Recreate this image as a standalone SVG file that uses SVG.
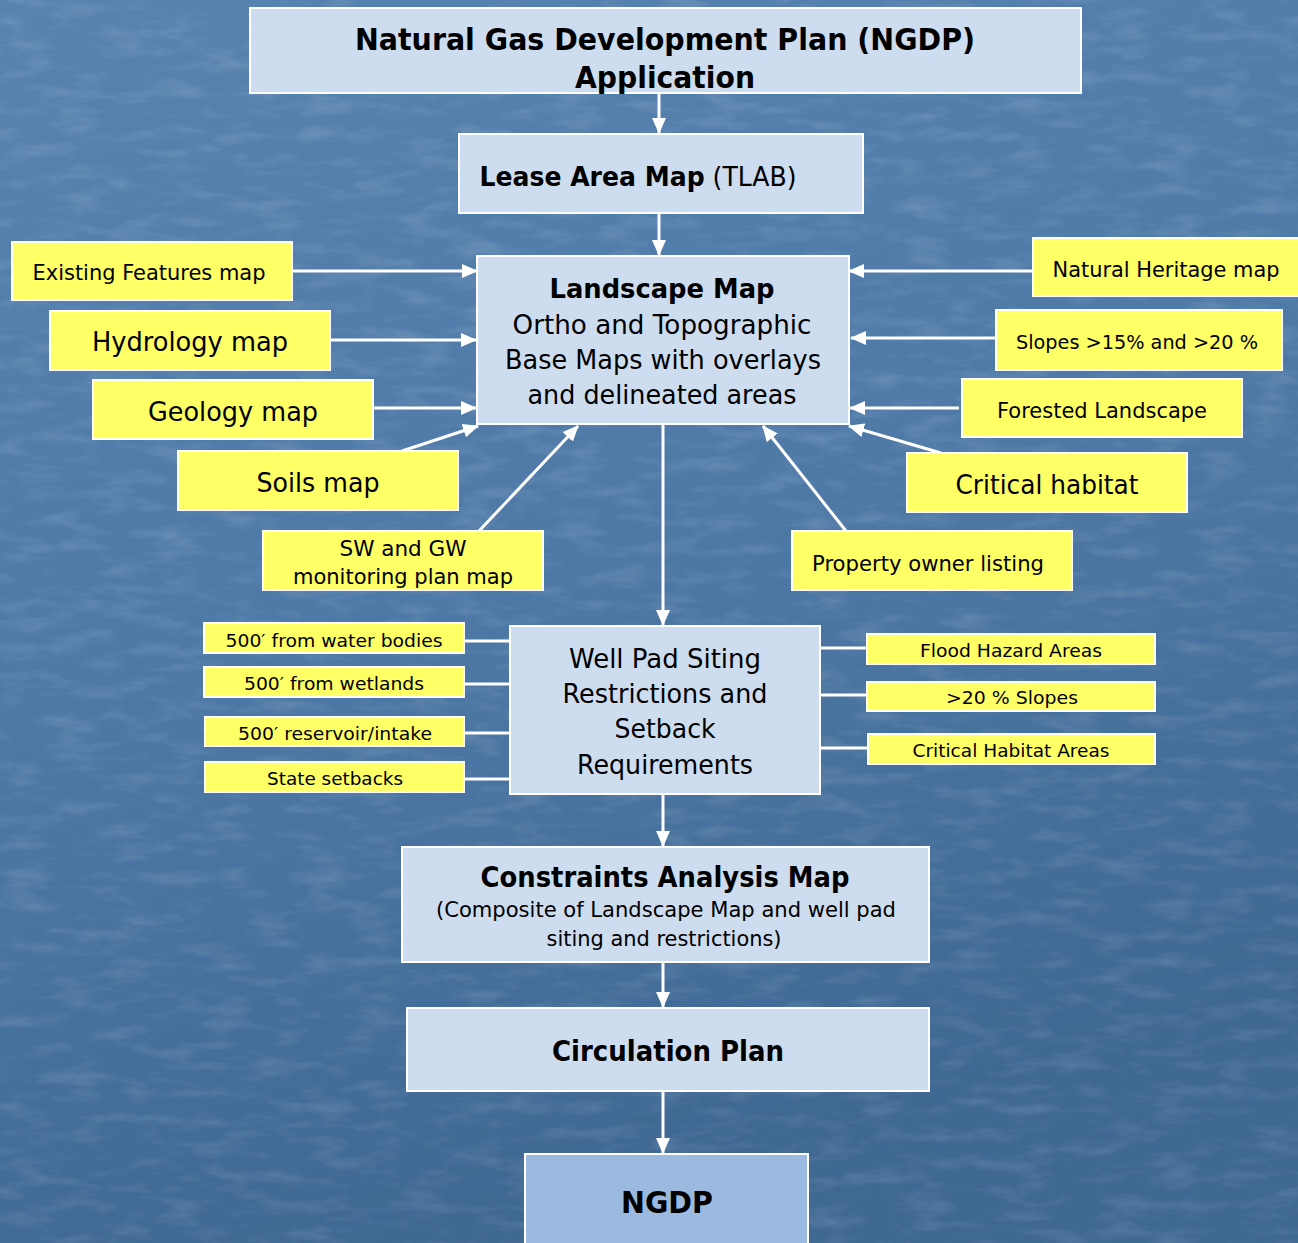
<svg xmlns="http://www.w3.org/2000/svg" width="1298" height="1243" viewBox="0 0 1298 1243">
<defs>
<linearGradient id="bg" x1="0" y1="0" x2="0.3" y2="1">
<stop offset="0" stop-color="#5883b0"/>
<stop offset="0.5" stop-color="#4f7aa8"/>
<stop offset="1" stop-color="#3f6893"/>
</linearGradient>
<filter id="tex" x="0" y="0" width="100%" height="100%">
<feTurbulence type="fractalNoise" baseFrequency="0.02 0.07" numOctaves="4" seed="7" result="n"/>
<feColorMatrix in="n" type="matrix" values="0 0 0 0 1  0 0 0 0 1  0 0 0 0 1  0 0 0 1.4 -0.65" />
</filter>
<marker id="ah" markerUnits="userSpaceOnUse" markerWidth="16" markerHeight="16" viewBox="0 0 16 16" refX="15" refY="8" orient="auto">
<path d="M0,1 L16,8 L0,15 Z" fill="#ffffff"/>
</marker>
<style>
.bl{fill:#cddcee;stroke:#ffffff;stroke-width:2}
.dk{fill:#9cbadf;stroke:#ffffff;stroke-width:2}
.yl{fill:#ffff66;stroke:#ffffff;stroke-width:2}
text{font-family:"DejaVu Sans","Liberation Sans",sans-serif;fill:#000;text-anchor:middle}
.b{font-weight:bold}
.c{stroke:#ffffff;stroke-width:3;fill:none}
.a{marker-end:url(#ah)}
</style>
</defs>
<rect x="0" y="0" width="1298" height="1243" fill="url(#bg)"/>
<rect x="0" y="0" width="1298" height="1243" filter="url(#tex)" opacity="0.2"/>

<g id="connectors">
<line class="c a" x1="659" y1="94" x2="659" y2="133"/>
<line class="c a" x1="659" y1="214" x2="659" y2="255"/>
<line class="c a" x1="293" y1="271" x2="477" y2="271"/>
<line class="c a" x1="331" y1="340" x2="476" y2="340"/>
<line class="c a" x1="374" y1="408" x2="476" y2="408"/>
<line class="c a" x1="402" y1="451" x2="478" y2="426"/>
<line class="c a" x1="479" y1="531" x2="578" y2="426"/>
<line class="c a" x1="1033" y1="271" x2="849" y2="271"/>
<line class="c a" x1="996" y1="338" x2="851" y2="338"/>
<line class="c a" x1="959" y1="408" x2="850" y2="408"/>
<line class="c a" x1="941" y1="453" x2="849" y2="426"/>
<line class="c a" x1="846" y1="531" x2="763" y2="426"/>
<line class="c a" x1="663" y1="425" x2="663" y2="625"/>
<line class="c" x1="464" y1="641" x2="510" y2="641"/>
<line class="c" x1="464" y1="684" x2="510" y2="684"/>
<line class="c" x1="464" y1="733" x2="510" y2="733"/>
<line class="c" x1="464" y1="779" x2="510" y2="779"/>
<line class="c" x1="820" y1="648" x2="867" y2="648"/>
<line class="c" x1="820" y1="695" x2="867" y2="695"/>
<line class="c" x1="820" y1="748" x2="867" y2="748"/>
<line class="c a" x1="663" y1="795" x2="663" y2="846"/>
<line class="c a" x1="663" y1="963" x2="663" y2="1007"/>
<line class="c a" x1="663" y1="1092" x2="663" y2="1153"/>
</g>

<g id="n-title">
<rect class="bl" x="250" y="8" width="831" height="85"/>
<text class="b" x="665" y="50" font-size="30" textLength="620" lengthAdjust="spacingAndGlyphs">Natural Gas Development Plan (NGDP)</text>
<text class="b" x="665" y="88" font-size="30" textLength="180" lengthAdjust="spacingAndGlyphs">Application</text>
</g>

<g id="n-lease">
<rect class="bl" x="459" y="134" width="404" height="79"/>
<text x="638" y="186" font-size="26" textLength="317" lengthAdjust="spacingAndGlyphs"><tspan class="b">Lease Area Map</tspan> (TLAB)</text>
</g>

<g id="n-landscape">
<rect class="bl" x="477" y="256" width="372" height="168"/>
<text class="b" x="662" y="298" font-size="26" textLength="225" lengthAdjust="spacingAndGlyphs">Landscape Map</text>
<text x="662" y="334" font-size="26" textLength="299" lengthAdjust="spacingAndGlyphs">Ortho and Topographic</text>
<text x="663" y="369" font-size="26" textLength="316" lengthAdjust="spacingAndGlyphs">Base Maps with overlays</text>
<text x="662" y="404" font-size="26" textLength="269" lengthAdjust="spacingAndGlyphs">and delineated areas</text>
</g>

<g id="n-existing">
<rect class="yl" x="12" y="242" width="280" height="58"/>
<text x="149" y="280" font-size="21" textLength="233" lengthAdjust="spacingAndGlyphs">Existing Features map</text>
</g>
<g id="n-hydrology">
<rect class="yl" x="50" y="311" width="280" height="59"/>
<text x="190" y="351" font-size="27" textLength="196" lengthAdjust="spacingAndGlyphs">Hydrology map</text>
</g>
<g id="n-geology">
<rect class="yl" x="93" y="380" width="280" height="59"/>
<text x="233" y="421" font-size="27" textLength="170" lengthAdjust="spacingAndGlyphs">Geology map</text>
</g>
<g id="n-soils">
<rect class="yl" x="178" y="451" width="280" height="59"/>
<text x="318" y="492" font-size="27" textLength="123" lengthAdjust="spacingAndGlyphs">Soils map</text>
</g>
<g id="n-swgw">
<rect class="yl" x="263" y="531" width="280" height="59"/>
<text x="403" y="556" font-size="21" textLength="127" lengthAdjust="spacingAndGlyphs">SW and GW</text>
<text x="403" y="584" font-size="21" textLength="220" lengthAdjust="spacingAndGlyphs">monitoring plan map</text>
</g>

<g id="n-heritage">
<rect class="yl" x="1033" y="238" width="266" height="58"/>
<text x="1166" y="277" font-size="21" textLength="227" lengthAdjust="spacingAndGlyphs">Natural Heritage map</text>
</g>
<g id="n-slopes">
<rect class="yl" x="996" y="310" width="286" height="60"/>
<text x="1137" y="349" font-size="19" textLength="242" lengthAdjust="spacingAndGlyphs">Slopes &gt;15% and &gt;20 %</text>
</g>
<g id="n-forested">
<rect class="yl" x="962" y="379" width="280" height="58"/>
<text x="1102" y="418" font-size="21" textLength="210" lengthAdjust="spacingAndGlyphs">Forested Landscape</text>
</g>
<g id="n-habitat">
<rect class="yl" x="907" y="453" width="280" height="59"/>
<text x="1047" y="494" font-size="27" textLength="183" lengthAdjust="spacingAndGlyphs">Critical habitat</text>
</g>
<g id="n-property">
<rect class="yl" x="792" y="531" width="280" height="59"/>
<text x="928" y="571" font-size="21" textLength="232" lengthAdjust="spacingAndGlyphs">Property owner listing</text>
</g>

<g id="n-wellpad">
<rect class="bl" x="510" y="626" width="310" height="168"/>
<text x="665" y="668" font-size="26" textLength="192" lengthAdjust="spacingAndGlyphs">Well Pad Siting</text>
<text x="665" y="703" font-size="26" textLength="205" lengthAdjust="spacingAndGlyphs">Restrictions and</text>
<text x="665" y="738" font-size="26" textLength="101" lengthAdjust="spacingAndGlyphs">Setback</text>
<text x="665" y="774" font-size="26" textLength="176" lengthAdjust="spacingAndGlyphs">Requirements</text>
</g>

<g id="n-water">
<rect class="yl" x="204" y="623" width="260" height="30"/>
<text x="334" y="647" font-size="18" textLength="217" lengthAdjust="spacingAndGlyphs">500′ from water bodies</text>
</g>
<g id="n-wetlands">
<rect class="yl" x="204" y="667" width="260" height="30"/>
<text x="334" y="690" font-size="18" textLength="180" lengthAdjust="spacingAndGlyphs">500′ from wetlands</text>
</g>
<g id="n-reservoir">
<rect class="yl" x="205" y="717" width="259" height="29"/>
<text x="335" y="740" font-size="18" textLength="194" lengthAdjust="spacingAndGlyphs">500′ reservoir/intake</text>
</g>
<g id="n-state">
<rect class="yl" x="205" y="762" width="259" height="30"/>
<text x="335" y="785" font-size="18" textLength="136" lengthAdjust="spacingAndGlyphs">State setbacks</text>
</g>

<g id="n-flood">
<rect class="yl" x="867" y="634" width="288" height="30"/>
<text x="1011" y="657" font-size="18" textLength="182" lengthAdjust="spacingAndGlyphs">Flood Hazard Areas</text>
</g>
<g id="n-slopes20">
<rect class="yl" x="867" y="682" width="288" height="29"/>
<text x="1012" y="704" font-size="18" textLength="132" lengthAdjust="spacingAndGlyphs">&gt;20 % Slopes</text>
</g>
<g id="n-chabitat">
<rect class="yl" x="868" y="734" width="287" height="30"/>
<text x="1011" y="757" font-size="18" textLength="197" lengthAdjust="spacingAndGlyphs">Critical Habitat Areas</text>
</g>

<g id="n-constraints">
<rect class="bl" x="402" y="847" width="527" height="115"/>
<text class="b" x="665" y="887" font-size="28" textLength="369" lengthAdjust="spacingAndGlyphs">Constraints Analysis Map</text>
<text x="666" y="917" font-size="21" textLength="460" lengthAdjust="spacingAndGlyphs">(Composite of Landscape Map and well pad</text>
<text x="664" y="946" font-size="21" textLength="235" lengthAdjust="spacingAndGlyphs">siting and restrictions)</text>
</g>

<g id="n-circulation">
<rect class="bl" x="407" y="1008" width="522" height="83"/>
<text class="b" x="668" y="1061" font-size="28" textLength="232" lengthAdjust="spacingAndGlyphs">Circulation Plan</text>
</g>

<g id="n-ngdp">
<rect class="dk" x="525" y="1154" width="283" height="100"/>
<text class="b" x="667" y="1213" font-size="31" textLength="92" lengthAdjust="spacingAndGlyphs">NGDP</text>
</g>
</svg>
